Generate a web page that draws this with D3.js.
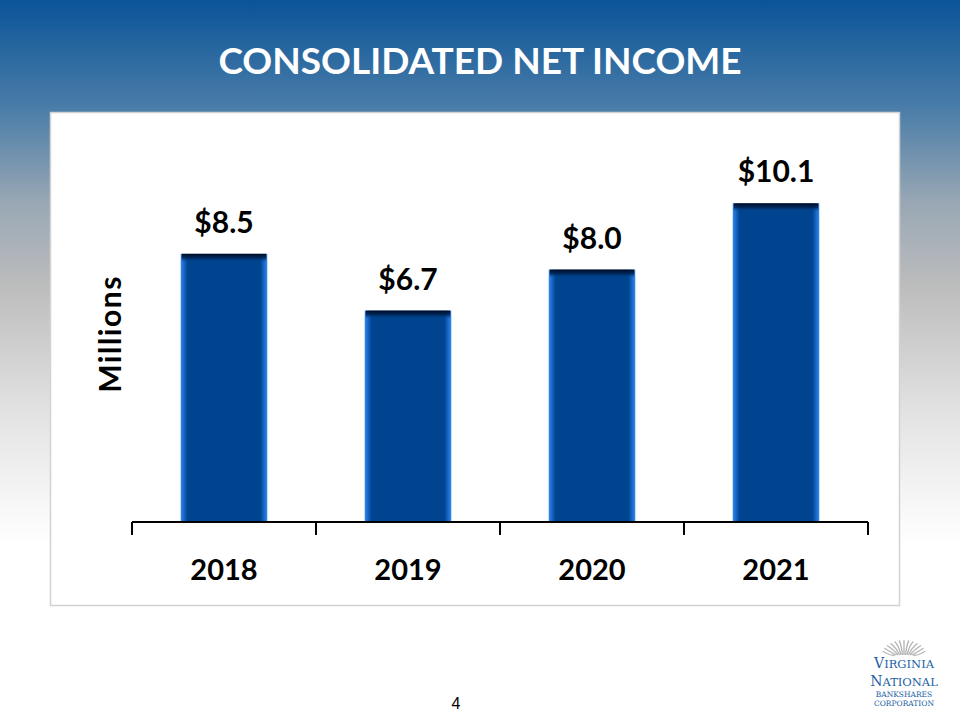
<!DOCTYPE html>
<html>
<head>
<meta charset="utf-8">
<script src="https://cdn.jsdelivr.net/npm/d3@7"></script>
<style>
  html, body { margin: 0; padding: 0; background: #fff; }
  svg { display: block; }
</style>
</head>
<body>
<svg id="chart" width="960" height="720"></svg>
<script>
// ── data ─────────────────────────────────────────────────────────────────────
const years  = ["2018", "2019", "2020", "2021"];
const income = [8.5, 6.7, 8.0, 10.1];
const labels = ["$8.5", "$6.7", "$8.0", "$10.1"];

const FONT = "Lato, 'Open Sans', sans-serif";

const svg = d3.select("#chart");
const defs = svg.append("defs");

// slide background: blue fading to grey to white
const bg = defs.append("linearGradient")
  .attr("id", "bg").attr("x1", 0).attr("y1", 0).attr("x2", 0).attr("y2", 1);
[[0, "#0a5498"], [0.15, "#4a7da8"], [0.28, "#98a7b4"], [0.4, "#bdbdbd"],
 [0.58, "#e4e4e4"], [0.72, "#fafafa"], [0.76, "#ffffff"], [1, "#ffffff"]]
  .forEach(([o, c]) => bg.append("stop").attr("offset", o).attr("stop-color", c));

// bar bevel: bright sides, dark middle
const barGrad = defs.append("linearGradient")
  .attr("id", "barGrad").attr("x1", 0).attr("y1", 0).attr("x2", 1).attr("y2", 0);
[[0, "#2f86e8"], [0.04, "#1565c4"], [0.08, "#00438e"], [0.92, "#00438e"],
 [0.96, "#1565c4"], [1, "#2f86e8"]]
  .forEach(([o, c]) => barGrad.append("stop").attr("offset", o).attr("stop-color", c));

const topGrad = defs.append("linearGradient")
  .attr("id", "topGrad").attr("x1", 0).attr("y1", 0).attr("x2", 0).attr("y2", 1);
[[0, "#000a22", 1], [0.5, "#00224f", 0.85], [1, "#00438e", 0]]
  .forEach(([o, c, a]) => topGrad.append("stop").attr("offset", o)
    .attr("stop-color", c).attr("stop-opacity", a));

svg.append("rect").attr("width", 960).attr("height", 720).attr("fill", "url(#bg)");

// title
svg.append("text")
  .attr("x", 480).attr("y", 74)
  .attr("text-anchor", "middle")
  .attr("font-family", FONT).attr("font-weight", 700).attr("font-size", 37)
  .attr("fill", "#fff")
  .text("CONSOLIDATED NET INCOME");

// plot panel
svg.append("rect")
  .attr("x", 50.5).attr("y", 112.5).attr("width", 849).attr("height", 493)
  .attr("fill", "#fff").attr("stroke", "#d2d2d2").attr("stroke-width", 1.5);

// ── scales ───────────────────────────────────────────────────────────────────
const x = d3.scaleBand().domain(years).range([132, 868]).paddingInner(0.53).paddingOuter(0.265);
const y = d3.scaleLinear().domain([0, 12]).range([522, 143.4]);

// bars
const bars = svg.append("g").selectAll("g")
  .data(years).enter().append("g");

bars.append("rect")
  .attr("x", d => x(d))
  .attr("y", (d, i) => y(income[i]))
  .attr("width", x.bandwidth())
  .attr("height", (d, i) => y(0) - y(income[i]))
  .attr("fill", "url(#barGrad)");

bars.append("rect")
  .attr("x", d => x(d) + 1)
  .attr("y", (d, i) => y(income[i]))
  .attr("width", x.bandwidth() - 2)
  .attr("height", 8)
  .attr("fill", "url(#topGrad)");

// value labels
bars.append("text")
  .attr("x", d => x(d) + x.bandwidth() / 2)
  .attr("y", (d, i) => y(income[i]) - 21)
  .attr("text-anchor", "middle")
  .attr("font-family", FONT).attr("font-weight", 700).attr("font-size", 30)
  .attr("fill", "#000")
  .text((d, i) => labels[i]);

// x axis with ticks between categories
const axis = svg.append("g").attr("transform", "translate(0,522)");
axis.append("line")
  .attr("x1", 132).attr("x2", 868)
  .attr("stroke", "#000").attr("stroke-width", 2);
const edges = years.map(d => x(d) - x.step() * x.paddingInner() / 2).concat([868]);
axis.selectAll("line.tick").data(edges).enter().append("line")
  .attr("class", "tick")
  .attr("x1", d => d).attr("x2", d => d)
  .attr("y1", 0).attr("y2", 13)
  .attr("stroke", "#000").attr("stroke-width", 2);
axis.selectAll("text").data(years).enter().append("text")
  .attr("x", d => x(d) + x.bandwidth() / 2)
  .attr("y", 58)
  .attr("text-anchor", "middle")
  .attr("font-family", FONT).attr("font-weight", 700).attr("font-size", 29)
  .attr("fill", "#000")
  .text(d => d);

// y axis title
svg.append("text")
  .attr("transform", "translate(121,334) rotate(-90)")
  .attr("text-anchor", "middle")
  .attr("font-family", FONT).attr("font-weight", 700).attr("font-size", 30)
  .attr("letter-spacing", 1.5)
  .attr("fill", "#000")
  .text("Millions");

// page number
svg.append("text")
  .attr("x", 456).attr("y", 709)
  .attr("text-anchor", "middle")
  .attr("font-family", "'Liberation Sans', Arial, sans-serif").attr("font-size", 16)
  .attr("fill", "#000")
  .text("4");

// ── logo ─────────────────────────────────────────────────────────────────────
const logo = svg.append("g").attr("transform", "translate(904,0)");
const fan = d3.range(-6, 7);
logo.selectAll("path.fan").data(fan).enter().append("path")
  .attr("class", "fan")
  .attr("d", d => {
    const a = d * 0.22;
    const x0 = d * 1.5, y0 = 655;
    const x1 = Math.sin(a) * 22, y1 = 655 - Math.cos(a) * 15;
    return `M${x0},${y0} Q${x0 + (x1 - x0) * 0.3},${y1 + 5} ${x1},${y1}`;
  })
  .attr("fill", "none").attr("stroke", "#b4b4b4").attr("stroke-width", 1.3);

const serif = "'DejaVu Serif', 'Liberation Serif', serif";
logo.append("text").attr("y", 668).attr("text-anchor", "middle")
  .attr("font-family", serif).attr("font-size", 14).attr("fill", "#1d62a6")
  .html('V<tspan font-size="11.5">IRGINIA</tspan>');
logo.append("text").attr("y", 686).attr("text-anchor", "middle")
  .attr("font-family", serif).attr("font-size", 14).attr("fill", "#1d62a6")
  .html('N<tspan font-size="11.5">ATIONAL</tspan>');
logo.append("text").attr("y", 697).attr("text-anchor", "middle")
  .attr("font-family", serif).attr("font-size", 7.5).attr("fill", "#1d62a6")
  .text("BANKSHARES");
logo.append("text").attr("y", 706).attr("text-anchor", "middle")
  .attr("font-family", serif).attr("font-size", 7.5).attr("fill", "#1d62a6")
  .text("CORPORATION");
</script>
</body>
</html>
